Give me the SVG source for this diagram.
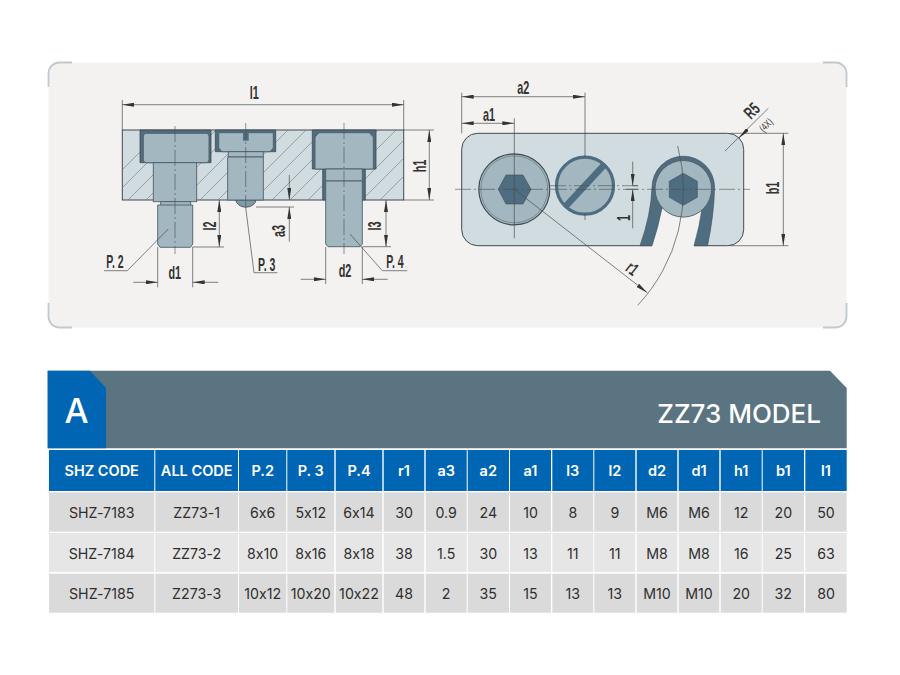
<svg xmlns="http://www.w3.org/2000/svg" width="900" height="675" viewBox="0 0 900 675">
<style>
.ln{fill:none;stroke:#4a4f52;stroke-width:.7}
.cl{fill:none;stroke:#4a4f52;stroke-width:.6;stroke-dasharray:16 3 2 3}
.ht{fill:none;stroke:#6a7578;stroke-width:.6}
.body{fill:#d1dce0;stroke:#3f4a50;stroke-width:1}
.st{fill:#a2b7bf;stroke:#4d5f69;stroke-width:.9}
.dk{fill:#4f6d80}
.dim{font:700 17.5px "Liberation Sans",sans-serif;fill:#333;text-anchor:middle}
.dt{font:14.2px Inter,"Liberation Sans",sans-serif;font-feature-settings:"calt" 0;fill:#2e2e2e;text-anchor:middle}
.hd{font:600 14.5px Inter,"Liberation Sans",sans-serif;font-feature-settings:"calt" 0;fill:#fff;text-anchor:middle}
.h{fill:#0066b3}.a{fill:#dadada}.b{fill:#e6e6e6}
</style>
<defs>
<marker id="ah" viewBox="0 0 12 4" refX="12" refY="2" markerWidth="12" markerHeight="4" markerUnits="userSpaceOnUse" orient="auto-start-reverse"><path d="M0 0L12 2L0 4Z" fill="#333"/></marker>
<clipPath id="plate"><rect x="122.3" y="130" width="281.4" height="70"/></clipPath>
</defs>
<g id="panel">
<rect x="48.500" y="62.500" width="798" height="265" rx="11" fill="#f3f2f0"/>
<path fill="none" stroke="#bfcacf" stroke-width="1.800" d="M48.500 87V73.500A11 11 0 0 1 59.500 62.500H72M823 62.500H835.500A11 11 0 0 1 846.500 73.500V87M846.500 303V316.500A11 11 0 0 1 835.500 327.500H823M72 327.500H59.500A11 11 0 0 1 48.500 316.500V303"/>
</g>
<g id="side-view">
<rect class="body" x="122.3" y="130" width="281.4" height="70"/>
<g clip-path="url(#plate)"><path class="ht" d="M92 200L162 130M110 200L180 130M128 200L198 130M146 200L216 130M164 200L234 130M182 200L252 130M200 200L270 130M218 200L288 130M236 200L306 130M254 200L324 130M272 200L342 130M290 200L360 130M308 200L378 130M326 200L396 130M344 200L414 130M362 200L432 130M380 200L450 130"/></g>
<path class="dk" d="M140 130H211V162.700H140ZM215.300 130H275.700V151.700H215.300ZM312.300 130H376V169H312.300ZM322.700 169H365.300V200H322.700Z" stroke="#3f4a50" stroke-width=".8"/>
<rect class="st" x="143.300" y="133.300" width="65.700" height="29.400" rx="3"/>
<rect class="st" x="153.300" y="162.700" width="43.400" height="39"/>
<rect class="st" x="160.700" y="201.700" width="30" height="4"/>
<path class="st" d="M157.700 205H192.700V244L190.500 247.300H160L157.700 244Z"/>
<path class="st" d="M218.700 132.700H273.300V148L270 151.700H222L218.700 148Z"/>
<path class="dk" d="M243 131H248.700V140.700H243Z"/>
<path class="st" d="M228.300 151.700H263.300V157H228.300Z"/>
<path d="M235.700 200A10.200 8 0 0 0 256 200Z" fill="#7f99a6" stroke="#3f4a50" stroke-width=".8"/>
<rect class="st" x="227.700" y="157" width="35.600" height="43"/>
<path class="st" d="M315 137L319 132.700H369.300L373.300 137V169H315Z"/>
<rect class="st" x="325.700" y="169" width="36.600" height="12"/>
<path class="st" d="M325.700 181H362.300V244L360 246.700H328L325.700 244Z"/>
</g>
<g id="plan-view">
<path class="body" d="M652 245.700H477.700A16 16 0 0 1 461.700 229.700V149.300A16 16 0 0 1 477.700 133.300H727.700A16 16 0 0 1 743.700 149.300V229.700A16 16 0 0 1 727.700 245.700H694"/>
<path d="M652 246.500Q658 228 662 208H702Q700 225 694 246.500Z" fill="#f3f2f0"/>
<path class="dk" stroke="#3f4a50" stroke-width=".6" d="M640 245.700Q651 215 652 187.500A31.300 31.300 0 0 1 714.600 187.500Q714 215 707.500 245.700H694Q700 225 702 208H662Q658 228 652 245.700Z"/>
<circle cx="683.300" cy="188.800" r="28.300" class="st"/>
<path class="dk" d="M683.300 173.300L697.300 181.300V197.300L683.300 205.300L669.300 197.300V181.300Z" stroke="#3f4a50" stroke-width=".6"/>
<circle cx="514.300" cy="189.300" r="35.500" fill="#a2b7bf" stroke="#3f4a50" stroke-width="1.200"/>
<circle cx="514.300" cy="189.300" r="33.500" fill="none" stroke="#5b6d75" stroke-width=".6"/>
<path class="dk" d="M498.300 189.300L506 175H523L531 189.300L523 204H506Z" stroke="#3f4a50" stroke-width=".6"/>
<circle cx="585" cy="185.700" r="28.500" fill="#a2b7bf" stroke="#4f6d80" stroke-width="3.200"/>
<path d="M565 207L605 164" stroke="#4f6d80" stroke-width="6.500" fill="none"/>
</g>
<g id="connectors">
<path class="ln" d="M122.300 100V130M403.700 100V130M403.700 130H434M403.700 200H434M192.700 247H224M256 207H294M362.300 246.700H391M157.700 247V287.300M192.700 247V287.300M325.700 247V284M362.300 247V284"/>
<path class="ln" marker-start="url(#ah)" marker-end="url(#ah)" d="M122.300 104.700H403.700"/>
<path class="ln" marker-start="url(#ah)" marker-end="url(#ah)" d="M429.300 130V200"/>
<path class="ln" marker-start="url(#ah)" marker-end="url(#ah)" d="M219.300 200V247"/>
<path class="ln" marker-start="url(#ah)" marker-end="url(#ah)" d="M386 200V246.700"/>
<path class="ln" marker-end="url(#ah)" d="M289.300 175V200"/>
<path class="ln" marker-end="url(#ah)" d="M289.300 241.700V207"/>
<path class="ln" marker-end="url(#ah)" d="M133.300 282.300H157.700"/>
<path class="ln" marker-end="url(#ah)" d="M218.300 282.300H192.700"/>
<path class="ln" marker-end="url(#ah)" d="M300.700 279.300H325.700"/>
<path class="ln" marker-end="url(#ah)" d="M387.700 279.300H362.300"/>
<path class="cl" d="M175 126V254M245.700 123V208M344 123V254"/>
<path class="ln" d="M104 270.700H127.300L168.300 229M254 272.700H277.300M254 272.700L245.700 207.700M382.300 270.700H407.300M382.300 270.700L350 234"/>
<path class="ln" d="M461.700 92.700V133.300M585 92.700V157M514.300 118.300V238.300M730 133.300H788.300M730 245.700H788.300M585 213V220M632.700 185.700H638M626 189.300H638"/>
<path class="ln" marker-start="url(#ah)" marker-end="url(#ah)" d="M461.700 96.700H585"/>
<path class="ln" marker-start="url(#ah)" marker-end="url(#ah)" d="M461.700 123.300H514.300"/>
<path class="ln" marker-start="url(#ah)" marker-end="url(#ah)" d="M783.300 133.300V245.700"/>
<path class="ln" marker-end="url(#ah)" d="M632.700 161.700V185.700"/>
<path class="ln" marker-end="url(#ah)" d="M632.700 228.300V189.300"/>
<path class="cl" d="M455 189.300H750M550 185.700H638"/>
<path class="ln" marker-end="url(#ah)" d="M514.300 189.300L647.300 292.700"/>
<path class="ln" d="M677.700 146A169 169 0 0 1 637.700 305.300M725 151L768.300 108.300"/>
<path class="ln" marker-end="url(#ah)" d="M748 129L739 138"/>
</g>
<g id="dimension-labels">
<text class="dim" transform="translate(254.300 99) scale(.62 1)">l1</text>
<text class="dim" transform="translate(426 166) rotate(-90) scale(.62 1)">h1</text>
<text class="dim" transform="translate(216 226) rotate(-90) scale(.62 1)">l2</text>
<text class="dim" transform="translate(285 231) rotate(-90) scale(.62 1)">a3</text>
<text class="dim" transform="translate(380.700 226) rotate(-90) scale(.62 1)">l3</text>
<text class="dim" transform="translate(174.700 279.300) scale(.62 1)">d1</text>
<text class="dim" transform="translate(345 276.700) scale(.62 1)">d2</text>
<text class="dim" transform="translate(115 267.700) scale(.6 1)">P. 2</text>
<text class="dim" transform="translate(266.700 270.700) scale(.6 1)">P. 3</text>
<text class="dim" transform="translate(395 268.300) scale(.6 1)">P. 4</text>
<text class="dim" transform="translate(523.300 94) scale(.62 1)">a2</text>
<text class="dim" transform="translate(489 121) scale(.62 1)">a1</text>
<text class="dim" transform="translate(630 218) rotate(-90) scale(.62 1)">1</text>
<text class="dim" transform="translate(779 188) rotate(-90) scale(.62 1)">b1</text>
<text class="dim" transform="translate(628.600 273.200) rotate(38) scale(.62 1)">r1</text>
<text class="dim" transform="translate(756 115) rotate(-45) scale(.62 1)">R5</text>
<text class="dim" style="font-size:10.500px;font-weight:400" transform="translate(768.500 127.500) rotate(-45) scale(.7 1)">(4X)</text>
</g>
<g id="banner">
<path d="M47.700 370.700H830L846.700 388V448.300H47.700Z" fill="#5a7481"/>
<path d="M47.700 370.700H90L106 388V448.300H47.700Z" fill="#0066b3"/>
<text x="76.500" y="423" style="font:500 34px Inter,'Liberation Sans',sans-serif;fill:#fff;text-anchor:middle">A</text>
<text x="821" y="423" style="font:500 26px Inter,'Liberation Sans',sans-serif;fill:#fff;text-anchor:end">ZZ73 MODEL</text>
</g>
<g id="table">
<g class="h"><rect x="49" y="450" width="105.300" height="41"/><rect x="155.300" y="450" width="82.700" height="41"/><rect x="239" y="450" width="47.300" height="41"/><rect x="287.300" y="450" width="47" height="41"/><rect x="335.700" y="450" width="46.600" height="41"/><rect x="383.700" y="450" width="40.600" height="41"/><rect x="425.700" y="450" width="41" height="41"/><rect x="467.700" y="450" width="41.300" height="41"/><rect x="510" y="450" width="41" height="41"/><rect x="552.300" y="450" width="41" height="41"/><rect x="594.300" y="450" width="41" height="41"/><rect x="636.700" y="450" width="40.600" height="41"/><rect x="678.700" y="450" width="40.600" height="41"/><rect x="720.700" y="450" width="41" height="41"/><rect x="762.700" y="450" width="41.300" height="41"/><rect x="805.300" y="450" width="41.400" height="41"/></g>
<g class="a"><rect x="49" y="492.300" width="105.300" height="39.400"/><rect x="155.300" y="492.300" width="82.700" height="39.400"/><rect x="239" y="492.300" width="47.300" height="39.400"/><rect x="287.300" y="492.300" width="47" height="39.400"/><rect x="335.700" y="492.300" width="46.600" height="39.400"/><rect x="383.700" y="492.300" width="40.600" height="39.400"/><rect x="425.700" y="492.300" width="41" height="39.400"/><rect x="467.700" y="492.300" width="41.300" height="39.400"/><rect x="510" y="492.300" width="41" height="39.400"/><rect x="552.300" y="492.300" width="41" height="39.400"/><rect x="594.300" y="492.300" width="41" height="39.400"/><rect x="636.700" y="492.300" width="40.600" height="39.400"/><rect x="678.700" y="492.300" width="40.600" height="39.400"/><rect x="720.700" y="492.300" width="41" height="39.400"/><rect x="762.700" y="492.300" width="41.300" height="39.400"/><rect x="805.300" y="492.300" width="41.400" height="39.400"/></g>
<g class="b"><rect x="49" y="533" width="105.300" height="39"/><rect x="155.300" y="533" width="82.700" height="39"/><rect x="239" y="533" width="47.300" height="39"/><rect x="287.300" y="533" width="47" height="39"/><rect x="335.700" y="533" width="46.600" height="39"/><rect x="383.700" y="533" width="40.600" height="39"/><rect x="425.700" y="533" width="41" height="39"/><rect x="467.700" y="533" width="41.300" height="39"/><rect x="510" y="533" width="41" height="39"/><rect x="552.300" y="533" width="41" height="39"/><rect x="594.300" y="533" width="41" height="39"/><rect x="636.700" y="533" width="40.600" height="39"/><rect x="678.700" y="533" width="40.600" height="39"/><rect x="720.700" y="533" width="41" height="39"/><rect x="762.700" y="533" width="41.300" height="39"/><rect x="805.300" y="533" width="41.400" height="39"/></g>
<g class="a"><rect x="49" y="573.700" width="105.300" height="39"/><rect x="155.300" y="573.700" width="82.700" height="39"/><rect x="239" y="573.700" width="47.300" height="39"/><rect x="287.300" y="573.700" width="47" height="39"/><rect x="335.700" y="573.700" width="46.600" height="39"/><rect x="383.700" y="573.700" width="40.600" height="39"/><rect x="425.700" y="573.700" width="41" height="39"/><rect x="467.700" y="573.700" width="41.300" height="39"/><rect x="510" y="573.700" width="41" height="39"/><rect x="552.300" y="573.700" width="41" height="39"/><rect x="594.300" y="573.700" width="41" height="39"/><rect x="636.700" y="573.700" width="40.600" height="39"/><rect x="678.700" y="573.700" width="40.600" height="39"/><rect x="720.700" y="573.700" width="41" height="39"/><rect x="762.700" y="573.700" width="41.300" height="39"/><rect x="805.300" y="573.700" width="41.400" height="39"/></g>
<g class="hd"><text x="101.700" y="476">SHZ CODE</text><text x="196.700" y="476">ALL CODE</text><text x="262.700" y="476">P.2</text><text x="310.800" y="476">P. 3</text><text x="359" y="476">P.4</text><text x="404" y="476">r1</text><text x="446.200" y="476">a3</text><text x="488.300" y="476">a2</text><text x="530.500" y="476">a1</text><text x="572.800" y="476">l3</text><text x="614.800" y="476">l2</text><text x="657" y="476">d2</text><text x="699" y="476">d1</text><text x="741.200" y="476">h1</text><text x="783.300" y="476">b1</text><text x="826" y="476">l1</text></g>
<g class="dt"><text x="101.700" y="518">SHZ-7183</text><text x="196.700" y="518">ZZ73-1</text><text x="262.700" y="518">6x6</text><text x="310.800" y="518">5x12</text><text x="359" y="518">6x14</text><text x="404" y="518">30</text><text x="446.200" y="518">0.9</text><text x="488.300" y="518">24</text><text x="530.500" y="518">10</text><text x="572.800" y="518">8</text><text x="614.800" y="518">9</text><text x="657" y="518">M6</text><text x="699" y="518">M6</text><text x="741.200" y="518">12</text><text x="783.300" y="518">20</text><text x="826" y="518">50</text></g>
<g class="dt"><text x="101.700" y="558.500">SHZ-7184</text><text x="196.700" y="558.500">ZZ73-2</text><text x="262.700" y="558.500">8x10</text><text x="310.800" y="558.500">8x16</text><text x="359" y="558.500">8x18</text><text x="404" y="558.500">38</text><text x="446.200" y="558.500">1.5</text><text x="488.300" y="558.500">30</text><text x="530.500" y="558.500">13</text><text x="572.800" y="558.500">11</text><text x="614.800" y="558.500">11</text><text x="657" y="558.500">M8</text><text x="699" y="558.500">M8</text><text x="741.200" y="558.500">16</text><text x="783.300" y="558.500">25</text><text x="826" y="558.500">63</text></g>
<g class="dt"><text x="101.700" y="598.500">SHZ-7185</text><text x="196.700" y="598.500">Z273-3</text><text x="262.700" y="598.500">10x12</text><text x="310.800" y="598.500">10x20</text><text x="359" y="598.500">10x22</text><text x="404" y="598.500">48</text><text x="446.200" y="598.500">2</text><text x="488.300" y="598.500">35</text><text x="530.500" y="598.500">15</text><text x="572.800" y="598.500">13</text><text x="614.800" y="598.500">13</text><text x="657" y="598.500">M10</text><text x="699" y="598.500">M10</text><text x="741.200" y="598.500">20</text><text x="783.300" y="598.500">32</text><text x="826" y="598.500">80</text></g>
</g>
</svg>
